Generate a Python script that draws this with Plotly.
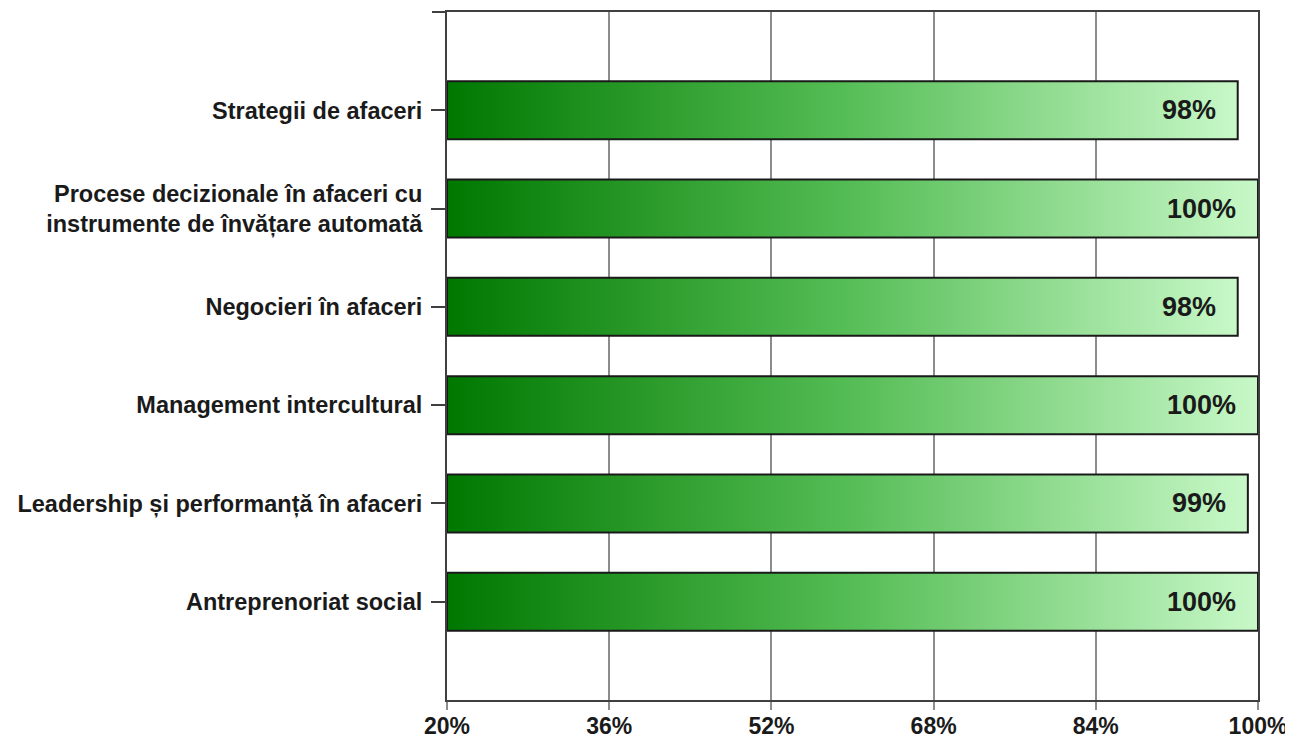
import plotly.graph_objects as go

categories = [
    "Strategii de afaceri",
    "Procese decizionale în afaceri cu<br>instrumente de învățare automată",
    "Negocieri în afaceri",
    "Management intercultural",
    "Leadership și performanță în afaceri",
    "Antreprenoriat social",
]
values = [98, 100, 98, 100, 99, 100]
x_ticks = [20, 36, 52, 68, 84, 100]
x_tick_labels = ["20%", "36%", "52%", "68%", "84%", "100%"]

AX_MIN = 20
HALF = 0.295
FONT = "Liberation Sans, Arial, sans-serif"
TXT = "#1a1a1a"

fig = go.Figure()
positions = list(range(len(categories)))
for pos, v in zip(positions, values):
    fig.add_trace(go.Scatter(
        x=[AX_MIN, v, v, AX_MIN, AX_MIN],
        y=[pos - HALF, pos - HALF, pos + HALF, pos + HALF, pos - HALF],
        mode="lines",
        line=dict(color="#1a1a1a", width=2),
        fill="toself",
        fillgradient=dict(
            type="horizontal",
            colorscale=[[0, "#007800"], [0.5, "#55bd55"], [1, "#c8f8c8"]],
        ),
        hoverinfo="skip",
        showlegend=False,
    ))
    fig.add_annotation(
        x=v, y=pos, text=f"{v}%", showarrow=False,
        xanchor="right", xshift=-20,
        font=dict(family=FONT, size=27, color=TXT, weight="bold"),
    )

fig.update_layout(
    width=1285, height=734,
    margin=dict(l=439, r=35, t=4, b=42),
    paper_bgcolor="white", plot_bgcolor="white",
    xaxis=dict(
        range=[AX_MIN, 100], tickvals=x_ticks, ticktext=x_tick_labels,
        showgrid=True, gridcolor="#8c8c8c", gridwidth=1.5,
        ticks="outside", ticklen=8, tickcolor="#8c8c8c", tickwidth=1.5,
        showline=True, linecolor="#404040", linewidth=2, mirror=True,
        tickfont=dict(family=FONT, size=23, color=TXT, weight="bold"),
        ticklabelstandoff=-4,
        zeroline=False, fixedrange=True, automargin=False,
    ),
    yaxis=dict(
        range=[len(categories), -1], tickvals=positions, ticktext=categories,
        showgrid=False, ticks="outside", ticklen=14, tickcolor="#404040", tickwidth=1.5,
        showline=True, linecolor="#404040", linewidth=2, mirror=True,
        tickfont=dict(family=FONT, size=23.5, color=TXT, weight="bold"),
        ticklabelstandoff=4,
        zeroline=False, fixedrange=True, automargin=False,
    ),
)
fig.add_shape(type="line", xref="paper", yref="paper",
              x0=-15 / 811, x1=0, y0=1, y1=1,
              line=dict(color="#404040", width=2))

fig.write_html("out.html")
